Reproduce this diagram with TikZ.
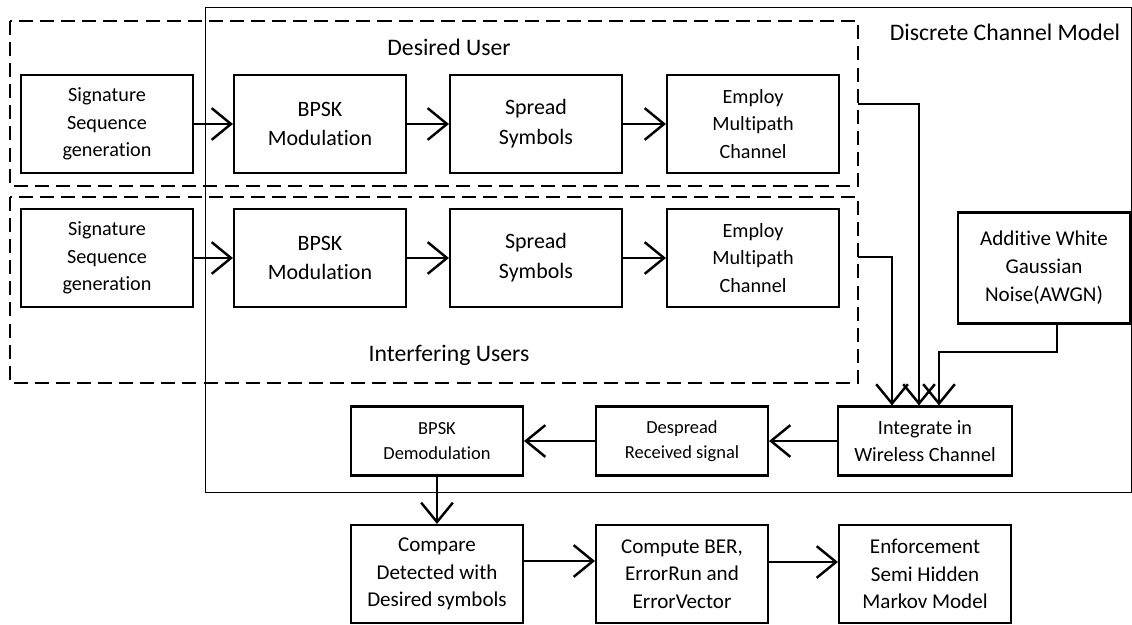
\documentclass[tikz,border=0pt]{standalone}
\usepackage{fontspec}
\setmainfont{Carlito}[Ligatures=NoCommon]
\usetikzlibrary{arrows.meta,positioning}

\tikzset{
  block/.style={draw,line width=1.2pt,minimum width=3.44cm,minimum height=1.96cm,
    align=center,inner sep=2pt,font=\fontsize{11.5}{15.5}\selectfont},
  smallblock/.style={block,minimum height=1.38cm,font=\fontsize{10.5}{14.5}\selectfont},
  group/.style={draw,line width=1.1pt,dash pattern=on 8pt off 4pt},
  flow/.style={line width=1.4pt,-{Straight Barb[length=11pt,width=18pt,line width=1.4pt]}},
  label/.style={font=\fontsize{13.5}{16}\selectfont},
}

\begin{document}
\begin{tikzpicture}[x=0.02cm,y=-0.02cm]
  \useasboundingbox (0,0) rectangle (1132,625);

  % channel model frame and user groups
  \draw[line width=0.5pt] (205,7) rectangle (1131.5,492);
  \draw[group] (10,21) rectangle (858,186);
  \draw[group] (10,197) rectangle (858,383);
  \node[label] (chmodel) at (1005,32) {Discrete Channel Model};
  \node[label] (desired) at (449,47) {Desired User};
  \node[label] (interf) at (449,355) {Interfering Users};

  % desired user
  \node[block] (sig1) at (107,124) {Signature\\Sequence\\generation};
  \node[block,font=\fontsize{12.5}{17}\selectfont] (bpsk1) at (320,124) {BPSK\\Modulation};
  \node[block,font=\fontsize{12.5}{17}\selectfont] (spread1) at (536,124) {Spread\\Symbols};
  \node[block] (employ1) at (753,124) {Employ\\Multipath\\Channel};

  % interfering users
  \node[block] (sig2) at (107,258) {Signature\\Sequence\\generation};
  \node[block,font=\fontsize{12.5}{17}\selectfont] (bpsk2) at (320,258) {BPSK\\Modulation};
  \node[block,font=\fontsize{12.5}{17}\selectfont] (spread2) at (536,258) {Spread\\Symbols};
  \node[block] (employ2) at (753,258) {Employ\\Multipath\\Channel};

  \node[block,minimum height=2.22cm,font=\fontsize{12}{16}\selectfont] (awgn) at (1044,268) {Additive White\\Gaussian\\Noise(AWGN)};

  % receiver
  \node[smallblock,minimum width=3.48cm,font=\fontsize{11.5}{15}\selectfont] (integ) at (925,441) {Integrate in\\Wireless Channel};
  \node[smallblock] (despread) at (682,441) {Despread\\Received signal};
  \node[smallblock] (demod) at (437,441) {BPSK\\Demodulation};

  \node[block,font=\fontsize{12}{15.5}\selectfont] (compare) at (437,574) {Compare\\Detected with\\Desired symbols};
  \node[block,font=\fontsize{12}{15.5}\selectfont] (compute) at (682,574) {Compute BER,\\ErrorRun and\\ErrorVector};
  \node[block,font=\fontsize{12}{15.5}\selectfont] (enforce) at (925,574) {Enforcement\\Semi Hidden\\Markov Model};

  \coordinate (desout) at (858,104);
  \coordinate (intout) at (858,257);
  \coordinate (bend) at (939,352);

  \draw[flow] (sig1) -- (bpsk1);
  \draw[flow] (bpsk1) -- (spread1);
  \draw[flow] (spread1) -- (employ1);
  \draw[flow] (sig2) -- (bpsk2);
  \draw[flow] (bpsk2) -- (spread2);
  \draw[flow] (spread2) -- (employ2);

  \draw[flow] (desout) -| ([xshift=-0.12cm]integ.north);
  \draw[flow] (intout) -| ([xshift=-0.66cm]integ.north);
  \draw[flow] ([xshift=0.26cm]awgn.south) |- (bend) -- (bend |- integ.north);

  \draw[flow] (integ) -- (despread);
  \draw[flow] (despread) -- (demod);
  \draw[flow] (demod) -- (compare);
  \draw[flow] ([yshift=0.26cm]compare.east) -- ([yshift=0.26cm]compute.west);
  \draw[flow] ([yshift=0.24cm]compute.east) -- ([yshift=0.24cm]enforce.west);
\end{tikzpicture}
\end{document}
